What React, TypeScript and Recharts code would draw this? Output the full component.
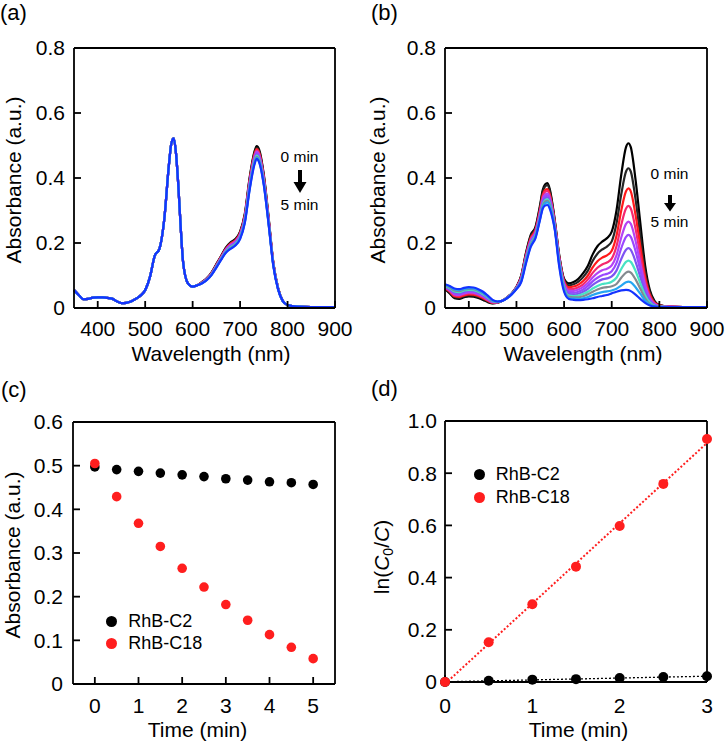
import { LineChart, Line, ScatterChart, Scatter, XAxis, YAxis, Legend } from "recharts"

const FONT = '"Liberation Sans", Arial, Helvetica, sans-serif'

// wavelength grid (nm) shared by every spectrum
const wavelengths = [
  350, 360, 370, 380, 390, 400, 410, 420, 430, 440, 450, 460, 470, 480, 490, 500, 510, 520, 530, 540, 550,
  555, 560, 565, 570, 575, 580,
  590, 600, 610, 620, 630, 640, 650, 660, 670, 680, 690, 700, 710, 720, 730,
  735, 740, 750, 760, 770, 780, 790, 800, 820, 850, 900,
]

// (a) RhB-C2: all spectra coincide up to 610 nm
const specACommon = [
  0.055, 0.04, 0.027, 0.028, 0.032, 0.033, 0.033, 0.031, 0.029, 0.021, 0.015, 0.016, 0.02, 0.028, 0.038, 0.055,
  0.095, 0.16, 0.182, 0.27, 0.44, 0.505, 0.522, 0.475, 0.373, 0.245, 0.14, 0.076, 0.066, 0.07,
]
// (a) 620 nm .. 900 nm, 0 min to 5 min
const specATails = [
  [0.08, 0.092, 0.11, 0.135, 0.16, 0.186, 0.202, 0.212, 0.235, 0.29, 0.4, 0.48, 0.498, 0.488, 0.41, 0.28, 0.14, 0.062, 0.022, 0.009, 0.004, 0.003, 0.003],
  [0.08, 0.091, 0.109, 0.134, 0.159, 0.184, 0.2, 0.21, 0.233, 0.287, 0.396, 0.475, 0.493, 0.483, 0.406, 0.277, 0.139, 0.061, 0.022, 0.009, 0.004, 0.003, 0.003],
  [0.079, 0.09, 0.108, 0.132, 0.158, 0.182, 0.198, 0.208, 0.23, 0.284, 0.392, 0.471, 0.489, 0.479, 0.402, 0.275, 0.138, 0.061, 0.022, 0.009, 0.004, 0.003, 0.003],
  [0.079, 0.09, 0.107, 0.131, 0.156, 0.18, 0.196, 0.206, 0.228, 0.281, 0.388, 0.467, 0.485, 0.475, 0.399, 0.273, 0.137, 0.061, 0.022, 0.009, 0.004, 0.003, 0.003],
  [0.078, 0.089, 0.106, 0.13, 0.155, 0.179, 0.194, 0.204, 0.226, 0.278, 0.385, 0.463, 0.481, 0.471, 0.396, 0.271, 0.136, 0.06, 0.021, 0.009, 0.004, 0.003, 0.003],
  [0.078, 0.089, 0.105, 0.129, 0.154, 0.177, 0.191, 0.201, 0.223, 0.275, 0.381, 0.458, 0.476, 0.466, 0.392, 0.268, 0.135, 0.06, 0.021, 0.009, 0.004, 0.003, 0.003],
  [0.077, 0.088, 0.104, 0.128, 0.152, 0.175, 0.189, 0.199, 0.22, 0.272, 0.377, 0.454, 0.472, 0.462, 0.388, 0.266, 0.134, 0.059, 0.021, 0.009, 0.004, 0.003, 0.003],
  [0.077, 0.087, 0.104, 0.127, 0.151, 0.174, 0.187, 0.197, 0.218, 0.269, 0.372, 0.451, 0.469, 0.459, 0.386, 0.264, 0.133, 0.059, 0.021, 0.009, 0.004, 0.003, 0.003],
  [0.077, 0.087, 0.103, 0.126, 0.15, 0.172, 0.185, 0.195, 0.216, 0.266, 0.368, 0.447, 0.465, 0.455, 0.383, 0.262, 0.132, 0.058, 0.021, 0.009, 0.004, 0.003, 0.003],
  [0.076, 0.086, 0.102, 0.125, 0.149, 0.171, 0.183, 0.193, 0.214, 0.264, 0.365, 0.443, 0.462, 0.452, 0.38, 0.26, 0.131, 0.058, 0.021, 0.009, 0.004, 0.003, 0.003],
  [0.076, 0.086, 0.102, 0.124, 0.148, 0.17, 0.182, 0.192, 0.212, 0.262, 0.362, 0.44, 0.459, 0.449, 0.378, 0.259, 0.13, 0.058, 0.021, 0.009, 0.004, 0.003, 0.003],
]

// (b) RhB-C18, 0 min to 5 min every 0.5 min
const specB = [
  [0.058, 0.045, 0.03, 0.028, 0.033, 0.036, 0.035, 0.031, 0.025, 0.018, 0.014, 0.016, 0.022, 0.032, 0.045, 0.065,
    0.1, 0.17, 0.225, 0.25, 0.32, 0.362, 0.38, 0.384, 0.365, 0.325, 0.275, 0.16, 0.09,
    0.076, 0.08, 0.09, 0.107, 0.13, 0.165, 0.19, 0.204, 0.215, 0.235, 0.3, 0.41, 0.495, 0.507, 0.495, 0.395, 0.262, 0.132, 0.055, 0.021, 0.009, 0.004, 0.003, 0.003],
  [0.059, 0.047, 0.033, 0.031, 0.036, 0.039, 0.038, 0.034, 0.028, 0.02, 0.015, 0.017, 0.022, 0.032, 0.045, 0.064,
    0.098, 0.167, 0.221, 0.246, 0.315, 0.356, 0.374, 0.378, 0.36, 0.321, 0.272, 0.158, 0.087,
    0.07, 0.073, 0.081, 0.095, 0.115, 0.145, 0.167, 0.18, 0.189, 0.205, 0.26, 0.35, 0.42, 0.43, 0.42, 0.335, 0.222, 0.113, 0.048, 0.019, 0.009, 0.004, 0.003, 0.003],
  [0.061, 0.05, 0.036, 0.034, 0.039, 0.042, 0.041, 0.037, 0.03, 0.022, 0.016, 0.017, 0.022, 0.032, 0.044, 0.064,
    0.096, 0.163, 0.216, 0.241, 0.307, 0.347, 0.363, 0.366, 0.35, 0.314, 0.267, 0.155, 0.083,
    0.064, 0.066, 0.072, 0.083, 0.1, 0.125, 0.144, 0.155, 0.162, 0.176, 0.222, 0.3, 0.359, 0.368, 0.359, 0.286, 0.19, 0.097, 0.041, 0.016, 0.008, 0.004, 0.003, 0.003],
  [0.062, 0.052, 0.039, 0.037, 0.042, 0.045, 0.044, 0.04, 0.033, 0.024, 0.017, 0.017, 0.022, 0.031, 0.044, 0.063,
    0.094, 0.16, 0.212, 0.237, 0.302, 0.341, 0.357, 0.36, 0.345, 0.31, 0.264, 0.152, 0.079,
    0.058, 0.059, 0.064, 0.073, 0.088, 0.108, 0.124, 0.134, 0.14, 0.152, 0.19, 0.256, 0.306, 0.314, 0.306, 0.244, 0.162, 0.083, 0.035, 0.014, 0.007, 0.004, 0.003, 0.003],
  [0.064, 0.054, 0.042, 0.04, 0.045, 0.048, 0.047, 0.042, 0.035, 0.026, 0.018, 0.018, 0.022, 0.031, 0.044, 0.062,
    0.092, 0.157, 0.208, 0.233, 0.296, 0.334, 0.349, 0.352, 0.338, 0.305, 0.261, 0.149, 0.075,
    0.053, 0.053, 0.057, 0.065, 0.077, 0.094, 0.107, 0.116, 0.121, 0.131, 0.162, 0.217, 0.259, 0.266, 0.259, 0.207, 0.137, 0.071, 0.03, 0.012, 0.006, 0.004, 0.003, 0.003],
  [0.065, 0.056, 0.045, 0.043, 0.048, 0.051, 0.05, 0.045, 0.038, 0.028, 0.019, 0.018, 0.022, 0.031, 0.044, 0.062,
    0.09, 0.154, 0.205, 0.23, 0.292, 0.328, 0.343, 0.346, 0.333, 0.301, 0.258, 0.146, 0.071,
    0.048, 0.047, 0.05, 0.057, 0.068, 0.082, 0.093, 0.101, 0.105, 0.113, 0.138, 0.184, 0.219, 0.225, 0.219, 0.175, 0.116, 0.06, 0.025, 0.01, 0.005, 0.003, 0.003, 0.003],
  [0.067, 0.059, 0.048, 0.046, 0.051, 0.054, 0.053, 0.048, 0.04, 0.03, 0.02, 0.018, 0.022, 0.031, 0.043, 0.061,
    0.088, 0.151, 0.201, 0.227, 0.287, 0.322, 0.337, 0.34, 0.327, 0.297, 0.255, 0.143, 0.067,
    0.043, 0.042, 0.044, 0.05, 0.059, 0.071, 0.081, 0.088, 0.091, 0.097, 0.115, 0.151, 0.179, 0.184, 0.179, 0.143, 0.095, 0.049, 0.021, 0.009, 0.005, 0.003, 0.003, 0.003],
  [0.068, 0.061, 0.051, 0.049, 0.054, 0.056, 0.055, 0.05, 0.042, 0.032, 0.021, 0.019, 0.022, 0.031, 0.043, 0.06,
    0.086, 0.148, 0.198, 0.224, 0.283, 0.317, 0.331, 0.334, 0.322, 0.293, 0.252, 0.14, 0.063,
    0.038, 0.037, 0.038, 0.043, 0.05, 0.06, 0.068, 0.074, 0.076, 0.081, 0.093, 0.12, 0.142, 0.146, 0.142, 0.114, 0.076, 0.039, 0.017, 0.007, 0.004, 0.003, 0.003, 0.003],
  [0.07, 0.063, 0.054, 0.052, 0.057, 0.059, 0.058, 0.053, 0.045, 0.034, 0.022, 0.019, 0.022, 0.03, 0.043, 0.06,
    0.084, 0.145, 0.195, 0.221, 0.28, 0.313, 0.327, 0.33, 0.318, 0.289, 0.25, 0.136, 0.059,
    0.034, 0.033, 0.033, 0.036, 0.042, 0.05, 0.057, 0.062, 0.064, 0.067, 0.074, 0.093, 0.109, 0.112, 0.109, 0.088, 0.059, 0.03, 0.013, 0.006, 0.004, 0.003, 0.003, 0.003],
  [0.071, 0.066, 0.057, 0.055, 0.059, 0.061, 0.06, 0.055, 0.047, 0.036, 0.023, 0.02, 0.022, 0.03, 0.042, 0.059,
    0.082, 0.141, 0.191, 0.218, 0.278, 0.309, 0.322, 0.325, 0.313, 0.285, 0.248, 0.131, 0.055,
    0.03, 0.029, 0.028, 0.03, 0.034, 0.04, 0.045, 0.049, 0.051, 0.054, 0.059, 0.069, 0.079, 0.081, 0.079, 0.064, 0.044, 0.023, 0.01, 0.005, 0.003, 0.003, 0.003, 0.003],
  [0.073, 0.068, 0.06, 0.058, 0.062, 0.064, 0.063, 0.058, 0.05, 0.038, 0.025, 0.02, 0.022, 0.03, 0.042, 0.058,
    0.08, 0.137, 0.188, 0.215, 0.275, 0.305, 0.315, 0.317, 0.305, 0.28, 0.245, 0.125, 0.05,
    0.028, 0.025, 0.024, 0.025, 0.027, 0.03, 0.034, 0.037, 0.04, 0.045, 0.05, 0.054, 0.056, 0.055, 0.052, 0.041, 0.028, 0.016, 0.008, 0.004, 0.003, 0.003, 0.003, 0.003],
]

// 0 min -> 5 min
const curveColors = [
  "#000000", "#262626", "#ff1a1a", "#f5286e", "#b443f5", "#9a48ff", "#7d55f2",
  "#48e2c4", "#848a90", "#25a6f2", "#1433ff",
]

// (c) absorbance at 735 nm vs time
const timeC = [0, 0.5, 1, 1.5, 2, 2.5, 3, 3.5, 4, 4.5, 5]
const c2Abs = [0.497, 0.491, 0.487, 0.483, 0.479, 0.475, 0.47, 0.467, 0.463, 0.461, 0.457]
const c18Abs = [0.505, 0.429, 0.368, 0.315, 0.265, 0.222, 0.182, 0.146, 0.113, 0.084, 0.058]

// (d) ln(C0/C) vs time
const timeD = [0, 0.5, 1, 1.5, 2, 2.5, 3]
const c2Ln = [0, 0.005, 0.009, 0.011, 0.015, 0.019, 0.022]
const c18Ln = [0, 0.152, 0.298, 0.442, 0.598, 0.759, 0.931]

const seriesNames = ["RhB-C2", "RhB-C18"]
const RED = "#ff1e1e"

type Box = { left: number; top: number; w: number; h: number }
const boxA: Box = { left: 74, top: 48, w: 261, h: 260 }
const boxB: Box = { left: 445, top: 48, w: 262, h: 260 }
const boxC: Box = { left: 73, top: 422, w: 262, h: 262 }
const boxD: Box = { left: 445, top: 421, w: 262, h: 261 }

const PAD_L = 70
const PAD_T = 20
const PAD_R = 30
const PAD_B = 50

const frameLine = { stroke: "#000", strokeWidth: 1.8 }
const tickText = { fill: "#000", fontSize: 21, fontFamily: FONT }
const decimal = (v: number) => (v === 0 ? "0" : v.toFixed(1))

// box frame: ticks on all four sides, pointing inward
function frame(o: {
  xDomain: [number, number]
  xTicks: number[]
  yDomain: [number, number]
  yTicks: number[]
  xMargin: number
  yMargin: number
  yKey?: string
}) {
  return [
    <XAxis key="xb" dataKey="x" type="number" domain={o.xDomain} ticks={o.xTicks} interval={0} height={PAD_B}
      tickSize={-7} tickMargin={o.xMargin} axisLine={frameLine} tickLine={frameLine} tick={tickText} />,
    <XAxis key="xt" xAxisId="top" orientation="top" dataKey="x" type="number" domain={o.xDomain} ticks={o.xTicks}
      interval={0} height={1} tickSize={-7} axisLine={frameLine} tickLine={frameLine} tick={false} />,
    <YAxis key="yl" dataKey={o.yKey} type="number" domain={o.yDomain} ticks={o.yTicks} interval={0} width={60}
      tickSize={-7} tickMargin={o.yMargin} axisLine={frameLine} tickLine={frameLine} tick={tickText} tickFormatter={decimal} />,
    <YAxis key="yr" yAxisId="right" orientation="right" dataKey={o.yKey} type="number" domain={o.yDomain} ticks={o.yTicks}
      interval={0} width={1} tickSize={-7} axisLine={frameLine} tickLine={frameLine} tick={false} />,
  ]
}

function chartSize(b: Box) {
  return {
    width: PAD_L + b.w + PAD_R,
    height: PAD_T + b.h + PAD_B,
    margin: { top: PAD_T - 1, right: PAD_R - 1, left: PAD_L - 60, bottom: 0 },
  }
}

function SpectraPanel({ box, specs }: { box: Box; specs: number[][] }) {
  const rows = wavelengths.map((x, i) => {
    const row: Record<string, number> = { x }
    specs.forEach((s, k) => (row["t" + k] = s[i]))
    return row
  })
  return (
    <div style={{ position: "absolute", left: box.left - PAD_L, top: box.top - PAD_T }}>
      <LineChart {...chartSize(box)} data={rows}>
        {frame({ xDomain: [350, 900], xTicks: [400, 500, 600, 700, 800, 900], yDomain: [0, 0.8], yTicks: [0, 0.2, 0.4, 0.6, 0.8], xMargin: 20, yMargin: 16 })}
        {specs.map((_, k) => (
          <Line key={k} dataKey={"t" + k} type="monotone" stroke={curveColors[k]} strokeWidth={2.2} dot={false} isAnimationActive={false} />
        ))}
      </LineChart>
    </div>
  )
}

function legendContent(gap: number) {
  return (props: any) => {
    const items = [...(props.payload || [])].sort((a: any, b: any) => seriesNames.indexOf(a.value) - seriesNames.indexOf(b.value))
    return (
      <div style={{ fontFamily: FONT, fontSize: 18, color: "#000" }}>
        {items.map((e: any) => (
          <div key={e.value} style={{ display: "flex", alignItems: "center", height: gap, whiteSpace: "nowrap" }}>
            <span style={{ display: "inline-block", width: 11, height: 11, borderRadius: 6, background: e.color, marginRight: 11 }} />
            <span>{e.value}</span>
          </div>
        ))}
      </div>
    )
  }
}

// legend position: first dot centre in page pixels -> wrapper offset inside the chart
function legendPos(b: Box, dotX: number, dotY: number, gap: number) {
  return { left: dotX - 5.5 - (b.left - PAD_L), top: dotY - gap / 2 - (b.top - PAD_T), width: "auto", height: "auto" }
}

const dotShape = (color: string, r: number) => (p: any) => <circle cx={p.cx} cy={p.cy} r={r} fill={color} />

function KineticsPanel() {
  const c2 = timeC.map((x, i) => ({ x, y: c2Abs[i] }))
  const c18 = timeC.map((x, i) => ({ x, y: c18Abs[i] }))
  return (
    <div style={{ position: "absolute", left: boxC.left - PAD_L, top: boxC.top - PAD_T }}>
      <ScatterChart {...chartSize(boxC)}>
        {frame({ xDomain: [-0.5, 5.5], xTicks: [0, 1, 2, 3, 4, 5], yDomain: [0, 0.6], yTicks: [0, 0.1, 0.2, 0.3, 0.4, 0.5, 0.6], xMargin: 21, yMargin: 17, yKey: "y" })}
        <Scatter name={seriesNames[0]} data={c2} fill="#000" shape={dotShape("#000", 4.8)} isAnimationActive={false} />
        <Scatter name={seriesNames[1]} data={c18} fill={RED} shape={dotShape(RED, 4.8)} isAnimationActive={false} />
        <Legend layout="vertical" align="center" verticalAlign="middle" content={legendContent(22)}
          wrapperStyle={legendPos(boxC, 111.7, 621.5, 22)} />
      </ScatterChart>
    </div>
  )
}

function RatePanel() {
  const c2 = timeD.map((x, i) => ({ x, y: c2Ln[i] }))
  const c18 = timeD.map((x, i) => ({ x, y: c18Ln[i] }))
  return (
    <div style={{ position: "absolute", left: boxD.left - PAD_L, top: boxD.top - PAD_T }}>
      <ScatterChart {...chartSize(boxD)}>
        {frame({ xDomain: [0, 3], xTicks: [0, 1, 2, 3], yDomain: [0, 1], yTicks: [0, 0.2, 0.4, 0.6, 0.8, 1], xMargin: 23, yMargin: 15, yKey: "y" })}
        <Scatter name={seriesNames[0]} data={c2} fill="#000" shape={dotShape("#000", 5)} isAnimationActive={false}
          line={{ stroke: "#000", strokeWidth: 1.3, strokeDasharray: "2 2" }} lineType="fitting" />
        <Scatter name={seriesNames[1]} data={c18} fill={RED} shape={dotShape(RED, 5)} isAnimationActive={false}
          line={{ stroke: RED, strokeWidth: 2, strokeDasharray: "2 2" }} lineType="fitting" />
        <Legend layout="vertical" align="center" verticalAlign="middle" content={legendContent(23)}
          wrapperStyle={legendPos(boxD, 479.3, 474.5, 23)} />
      </ScatterChart>
    </div>
  )
}

function Arrow({ x, top, shaftEnd, tip, half }: { x: number; top: number; shaftEnd: number; tip: number; half: number }) {
  return (
    <g fill="#000">
      <rect x={x - 2} y={top} width={4} height={shaftEnd - top + 1} />
      <polygon points={`${x - half},${shaftEnd} ${x + half},${shaftEnd} ${x},${tip}`} />
    </g>
  )
}

export default function App() {
  return (
    <div style={{ position: "absolute", left: 0, top: 0, width: 727, height: 746, background: "#fff", fontFamily: FONT }}>
      <SpectraPanel box={boxA} specs={specATails.map((t) => [...specACommon, ...t])} />
      <SpectraPanel box={boxB} specs={specB} />
      <KineticsPanel />
      <RatePanel />
      <svg width={727} height={746} style={{ position: "absolute", left: 0, top: 0, pointerEvents: "none" }} fontFamily={FONT} fill="#000">
        <text x={0} y={20} fontSize={22}>(a)</text>
        <text x={371} y={20} fontSize={22}>(b)</text>
        <text x={1} y={397} fontSize={22}>(c)</text>
        <text x={371} y={396} fontSize={22}>(d)</text>

        <text transform="translate(21,180) rotate(-90)" textAnchor="middle" fontSize={21}>Absorbance (a.u.)</text>
        <text transform="translate(385,180) rotate(-90)" textAnchor="middle" fontSize={21}>Absorbance (a.u.)</text>
        <text transform="translate(20,555) rotate(-90)" textAnchor="middle" fontSize={21}>Absorbance (a.u.)</text>
        <text transform="translate(389,557) rotate(-90)" textAnchor="middle" fontSize={21}>
          ln(<tspan fontStyle="italic">C</tspan>
          <tspan fontSize={14} dy={4}>0</tspan>
          <tspan dy={-4}>/</tspan>
          <tspan fontStyle="italic">C</tspan>)
        </text>

        <text x={211} y={361} textAnchor="middle" fontSize={21}>Wavelength (nm)</text>
        <text x={583} y={361} textAnchor="middle" fontSize={21}>Wavelength (nm)</text>
        <text x={197.5} y={737} textAnchor="middle" fontSize={21}>Time (min)</text>
        <text x={578.5} y={737} textAnchor="middle" fontSize={21}>Time (min)</text>

        <text x={299.5} y={161.5} textAnchor="middle" fontSize={15.5}>0 min</text>
        <Arrow x={300} top={170} shaftEnd={182} tip={193} half={6.5} />
        <text x={299.5} y={209.5} textAnchor="middle" fontSize={15.5}>5 min</text>

        <text x={669.5} y={178.5} textAnchor="middle" fontSize={15.5}>0 min</text>
        <Arrow x={670} top={195} shaftEnd={203} tip={211.5} half={6} />
        <text x={669.5} y={226.5} textAnchor="middle" fontSize={15.5}>5 min</text>
      </svg>
    </div>
  )
}
